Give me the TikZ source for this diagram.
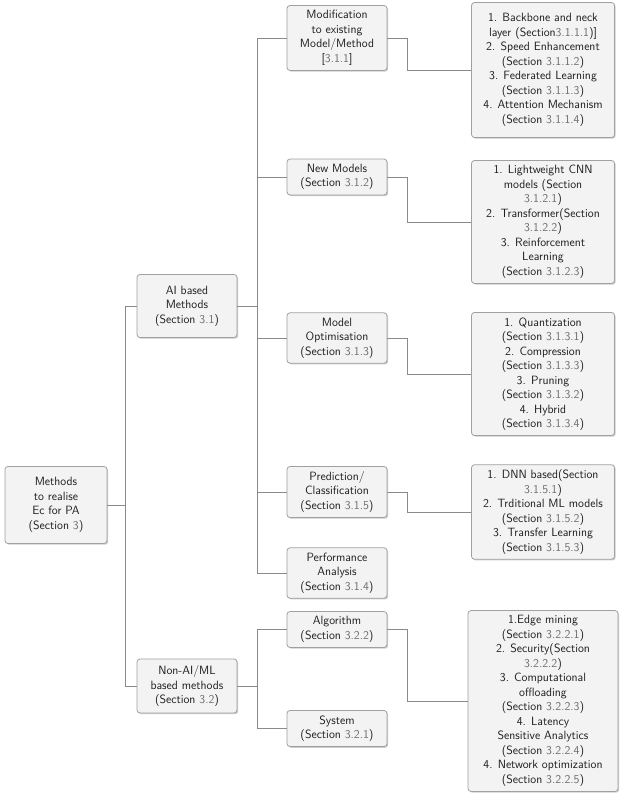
\documentclass[tikz,border=0pt]{standalone}
\definecolor{ecline}{HTML}{8A8A8A}
\definecolor{ecborder}{HTML}{A0A0A0}
\definecolor{ecfill}{HTML}{F3F3F3}
\definecolor{ectext}{HTML}{1E1E1E}
\definecolor{ecref}{HTML}{6E6E6E}
\usetikzlibrary{shadows}
\newcommand{\secno}[1]{\textcolor{ecref}{#1}}

\begin{document}
\begin{tikzpicture}[x=1pt,y=-1pt,font=\sffamily\fontsize{12}{14.5}\selectfont,text=ectext]
        \tikzset{
            ecbox/.style={
                draw=ecborder,
                fill=ecfill,
                rounded corners=3pt,
                line width=0.8pt,
                minimum width=100pt,
                inner xsep=2pt,
                inner ysep=5pt,
                align=center,
                drop shadow={shadow xshift=1.2pt,shadow yshift=-1.2pt,
                    fill=black!40,opacity=0.5}
            },
            ecleaf/.style={
                ecbox,
                minimum width=143pt
            },
            eclink/.style={
                draw=ecline,
                line width=0.8pt
            }
        }
        \useasboundingbox (0,0) rectangle (629,802);

        % root and first level
        \node[ecbox,minimum width=102pt,minimum height=77pt] (root) at (56,505)
            {Methods\\to realise\\Ec for PA\\(Section \secno{3})};
        \node[ecbox,minimum height=63pt] (ai) at (187,306)
            {AI based\\Methods\\(Section \secno{3.1})};
        \node[ecbox,minimum height=54pt] (nonai) at (187,686)
            {Non-AI/ML\\based methods\\(Section \secno{3.2})};

        % second level
        \node[ecbox] (modif) at (337,38)
            {Modification\\to existing\\Model/Method\\{[}\secno{3.1.1}{]}};
        \node[ecbox] (newmod) at (337,177)
            {New Models\\(Section \secno{3.1.2})};
        \node[ecbox] (optim) at (337,338)
            {Model\\Optimisation\\(Section \secno{3.1.3})};
        \node[ecbox] (predict) at (337,492)
            {Prediction/\\Classification\\(Section \secno{3.1.5})};
        \node[ecbox] (perf) at (337,573)
            {Performance\\Analysis\\(Section \secno{3.1.4})};
        \node[ecbox] (algo) at (337,629.5)
            {Algorithm\\(Section \secno{3.2.2})};
        \node[ecbox] (system) at (337,728.5)
            {System\\(Section \secno{3.2.1})};

        % leaves
        \node[ecleaf,minimum height=135pt] (modlist) at (543,70)
            {1. Backbone and neck\\layer (Section\secno{3.1.1.1})]\\2. Speed Enhancement\\(Section \secno{3.1.1.2})\\
             3. Federated Learning\\(Section \secno{3.1.1.3})\\4. Attention Mechanism\\(Section \secno{3.1.1.4})};
        \node[ecleaf] (newlist) at (543,222)
            {1. Lightweight CNN\\models (Section\\\secno{3.1.2.1})\\2. Transformer(Section\\\secno{3.1.2.2})\\
             3. Reinforcement\\Learning\\(Section \secno{3.1.2.3})};
        \node[ecleaf] (optlist) at (543,374)
            {1. Quantization\\(Section \secno{3.1.3.1})\\2. Compression\\(Section \secno{3.1.3.3})\\
             3. Pruning\\(Section \secno{3.1.3.2})\\4. Hybrid\\(Section \secno{3.1.3.4})};
        \node[ecleaf] (predlist) at (543,512)
            {1. DNN based(Section\\\secno{3.1.5.1})\\2. Trditional ML models\\(Section \secno{3.1.5.2})\\
             3. Transfer Learning\\(Section \secno{3.1.5.3})};
        \node[ecleaf,minimum width=150pt] (algolist) at (543,701)
            {1.Edge mining\\(Section \secno{3.2.2.1})\\2. Security(Section\\\secno{3.2.2.2})\\
             3. Computational\\offloading\\(Section \secno{3.2.2.3})\\4. Latency\\Sensitive Analytics\\
             (Section \secno{3.2.2.4})\\4. Network optimization\\(Section \secno{3.2.2.5})};

        % connectors
        \draw[eclink] (root.east) -- ++(18,0) |- (ai.west);
        \draw[eclink] (root.east) -- ++(18,0) |- (nonai.west);

        \foreach \kid in {modif,newmod,optim,predict,perf}
            \draw[eclink] (ai.east) -- ++(20,0) |- (\kid.west);
        \foreach \kid in {algo,system}
            \draw[eclink] (nonai.east) -- ++(20,0) |- (\kid.west);

        \draw[eclink] (modif.east) -- ++(20,0) |- (modlist.west);
        \draw[eclink] (newmod.east) -- ++(20,0) |- (newlist.west);
        \draw[eclink] (optim.east) -- ++(20,0) |- (optlist.west);
        \draw[eclink] (predict.east) -- ++(20,0) |- (predlist.west);
        \draw[eclink] (algo.east) -- ++(20,0) |- (algolist.west);
    \end{tikzpicture}
\end{document}
